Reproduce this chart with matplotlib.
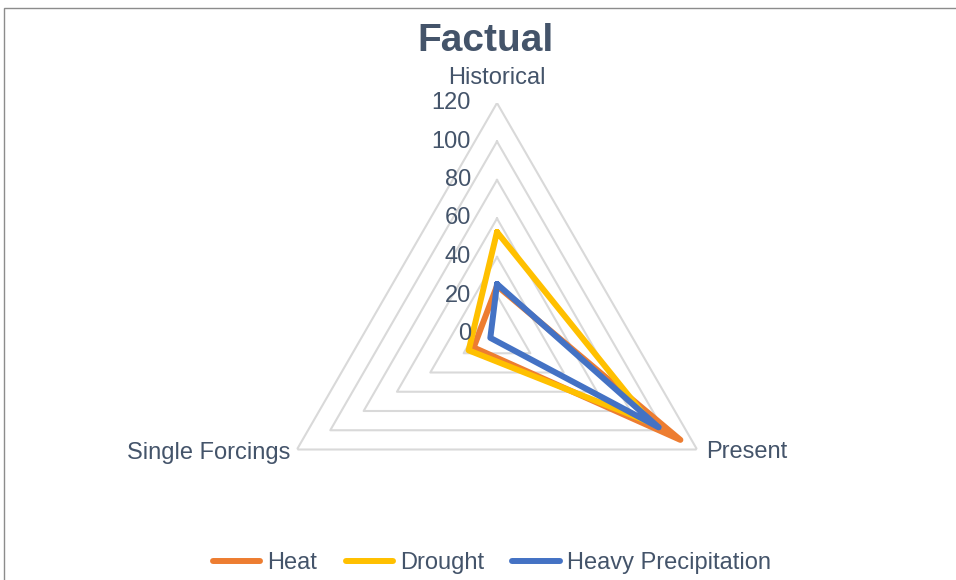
import numpy as np
import matplotlib.pyplot as plt
from matplotlib.patches import Rectangle
import matplotlib.transforms as mtransforms

plt.rcParams['font.family'] = ['Liberation Sans', 'DejaVu Sans']

categories = ['Historical', 'Present', 'Single Forcings']
heat = [25, 110, 14]
drought = [53, 92, 17]
heavy_precip = [26, 97, 4]
r_ticks = [0, 20, 40, 60, 80, 100, 120]

series = [('Heat', heat, '#ED7D31'),
          ('Drought', drought, '#FFC000'),
          ('Heavy Precipitation', heavy_precip, '#4472C4')]

text_col = '#44546A'
W, H = 956, 580

fig = plt.figure(figsize=(W / 100, H / 100), dpi=100)

# outer chart border
fig.patches.append(Rectangle((4 / W, -0.05), 1.1, 1.05 - 8 / H,
                             transform=fig.transFigure, fill=False,
                             edgecolor='#8C8C8C', linewidth=1))

cx, cy, R = 497, H - 334, 231
ax = fig.add_axes([(cx - R) / W, (cy - R) / H, 2 * R / W, 2 * R / H],
                  projection='polar')
ax.set_theta_offset(np.pi / 2)
ax.set_theta_direction(-1)
ax.set_ylim(0, 120)
ax.grid(False)
ax.spines['polar'].set_visible(False)
ax.set_xticks([])
ax.set_yticks([])
ax.patch.set_alpha(0)

theta = np.linspace(0, 2 * np.pi, len(categories), endpoint=False)
closed = np.append(theta, theta[0])

# triangular gridlines
for r in r_ticks[1:]:
    ax.plot(closed, [r] * len(closed), color='#D9D9D9', lw=1.5, zorder=1)

for name, vals, col in series:
    ax.plot(closed, vals + vals[:1], color=col, lw=4.3, label=name,
            solid_joinstyle='round', solid_capstyle='round', zorder=3)

# radial value labels left of the vertical axis
off = mtransforms.offset_copy(ax.transData, fig=fig, x=-26, y=0,
                              units='dots')
for r in r_ticks:
    ax.text(0, r, str(r), transform=off, ha='right', va='center',
            fontsize=17, color=text_col)

# category labels at the vertices
label_offsets = [(0, 25, 'center', 'center'),
                 (9, -3, 'left', 'center'),
                 (-7, -3, 'right', 'center')]
for t, name, (dx, dy, ha, va) in zip(theta, categories, label_offsets):
    tr = mtransforms.offset_copy(ax.transData, fig=fig, x=dx, y=dy,
                                 units='dots')
    ax.text(t, 120, name, transform=tr, ha=ha, va=va, fontsize=17,
            color=text_col)

fig.text(486 / W, 1 - 41 / H, 'Factual', ha='center', va='center',
         fontsize=28, fontweight='bold', color=text_col)

leg = fig.legend(loc='center', bbox_to_anchor=(492 / W, 1 - 563 / H),
                 ncol=3, frameon=False, fontsize=17, handlelength=2.0,
                 handletextpad=0.3, columnspacing=1.2)
for txt in leg.get_texts():
    txt.set_color(text_col)
for ln in leg.get_lines():
    ln.set_linewidth(4.3)

fig.savefig('out.png', dpi=100)
